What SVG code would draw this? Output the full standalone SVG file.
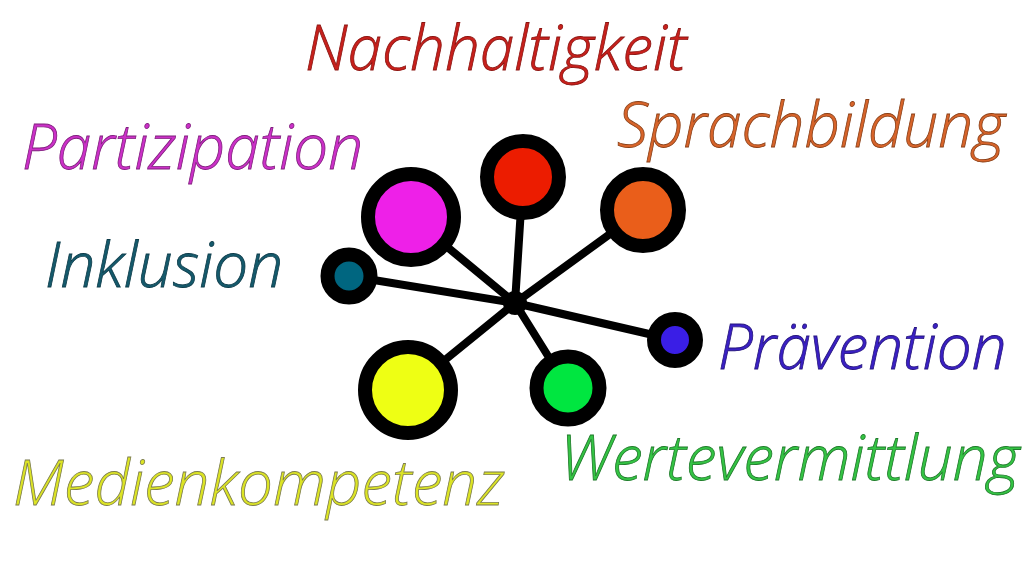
<svg xmlns="http://www.w3.org/2000/svg" width="1024" height="576" viewBox="0 0 1024 576">
<style>
.lbl{font-family:"Open Sans","Noto Sans","DejaVu Sans",sans-serif;font-style:italic;font-weight:300;font-size:62px;stroke-width:0.8px}
.ring{stroke:#000;stroke-width:14}
.edge{stroke:#000;stroke-width:8;stroke-linecap:round}
</style>
<rect width="1024" height="576" fill="#fff"/>
<g id="labels">
<text class="lbl" x="305" y="70" fill="#c8201c" stroke="#8a1410">Nachhaltigkeit</text>
<text class="lbl" x="617" y="147" fill="#d8642a" stroke="#8a4018">Sprachbildung</text>
<text class="lbl" x="22" y="169" fill="#cc30c8" stroke="#80207e">Partizipation</text>
<text class="lbl" x="45" y="287" fill="#155a6c" stroke="#0c3a48">Inklusion</text>
<text class="lbl" x="718" y="369" fill="#3a20c4" stroke="#24147c">Prävention</text>
<text class="lbl" x="560" y="480" fill="#34c444" stroke="#1f7a2a">Wertevermittlung</text>
<text class="lbl" x="13" y="505" fill="#dce424" stroke="#7c7c50">Medienkompetenz</text>
</g>
<g id="connectors">
<line class="edge" x1="515" y1="303" x2="523" y2="177"/>
<line class="edge" x1="515" y1="303" x2="411" y2="217"/>
<line class="edge" x1="515" y1="303" x2="643" y2="210"/>
<line class="edge" x1="515" y1="303" x2="349" y2="276"/>
<line class="edge" x1="515" y1="303" x2="675" y2="340"/>
<line class="edge" x1="515" y1="303" x2="408" y2="390"/>
<line class="edge" x1="515" y1="303" x2="568" y2="388"/>
</g>
<g id="hub"><circle cx="515" cy="303" r="12" fill="#000"/></g>
<g id="node-nachhaltigkeit"><circle class="ring" cx="523" cy="177" r="36" fill="#ec1c00"/></g>
<g id="node-partizipation"><circle class="ring" cx="411" cy="217" r="43" stroke-width="15" fill="#ee20e8"/></g>
<g id="node-sprachbildung"><circle class="ring" cx="643" cy="210" r="36" fill="#ea5e1a"/></g>
<g id="node-inklusion"><circle class="ring" cx="349" cy="276" r="21.5" stroke-width="15" fill="#006680"/></g>
<g id="node-praevention"><circle class="ring" cx="675" cy="340" r="21" fill="#3a1ee6"/></g>
<g id="node-medienkompetenz"><circle class="ring" cx="408" cy="390" r="43" stroke-width="15" fill="#eeff14"/></g>
<g id="node-wertevermittlung"><circle class="ring" cx="568" cy="388" r="31.5" stroke-width="15" fill="#00e640"/></g>
</svg>
